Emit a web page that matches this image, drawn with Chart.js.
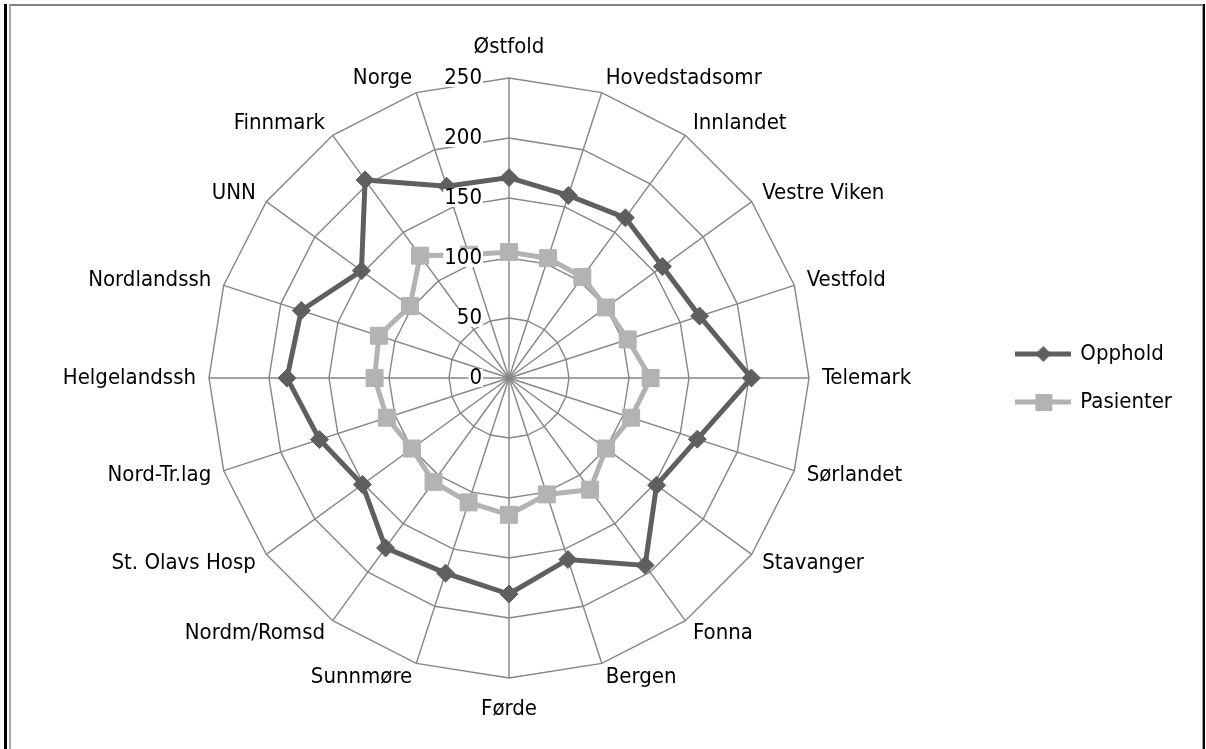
<!DOCTYPE html>
<html>
<head>
<meta charset="utf-8">
<script src="https://cdn.jsdelivr.net/npm/chart.js@4"></script>
<style>
  body { margin: 0; background: #fff; }
  #frame { position: absolute; left: 4px; top: 4px; width: 1201px; height: 760px; box-sizing: border-box;
           border-left: 3px solid #000; border-right: 2px solid #000; }
  #inner { position: absolute; left: 2px; top: 0; right: 0; bottom: 0;
           border-top: 2px solid #808080; border-left: 2px solid #a6a6a6; border-right: 1px solid #a0a0a0; }
  #myChart { position: absolute; left: 0; top: 0; }
</style>
</head>
<body>
<div id="frame"><div id="inner"></div></div>
<canvas id="myChart" width="1206" height="749"></canvas>
<script>
const categories = ['Østfold', 'Hovedstadsomr', 'Innlandet', 'Vestre Viken', 'Vestfold', 'Telemark',
  'Sørlandet', 'Stavanger', 'Fonna', 'Bergen', 'Førde', 'Sunnmøre', 'Nordm/Romsd', 'St. Olavs Hosp',
  'Nord-Tr.lag', 'Helgelandssh', 'Nordlandssh', 'UNN', 'Finnmark', 'Norge'];
const opphold   = [167, 160, 165, 158, 167, 202, 165, 152, 193, 159, 180, 171, 175, 151, 166, 185, 182, 152, 204, 168];
const pasienter = [105, 105, 104, 100, 104, 118, 107, 100, 115, 102, 114, 109, 107, 100, 107, 112, 114, 102, 126, 108];
const tickLabels = ['0', '50', '100', '150', '200', '250'];

const FONT_FAMILY = '"DejaVu Sans Condensed", "Liberation Sans Narrow", sans-serif';
const FONT_SIZE = 22;
const FONT = FONT_SIZE + 'px ' + FONT_FAMILY;
const DARK = '#5f5f5f';
const LIGHT = '#b3b3b3';
const GRID = '#868686';

// legend icon: line with marker in the middle, like excel
function makeIcon(color, style) {
  const c = document.createElement('canvas');
  c.width = 56; c.height = 20;
  const g = c.getContext('2d');
  g.strokeStyle = color;
  g.lineWidth = 5;
  g.beginPath(); g.moveTo(0, 10); g.lineTo(56, 10); g.stroke();
  g.fillStyle = color;
  if (style === 'rectRot') {
    g.beginPath(); g.moveTo(28, 2); g.lineTo(36, 10); g.lineTo(28, 18); g.lineTo(20, 10); g.closePath(); g.fill();
  } else {
    g.fillRect(20, 2, 17, 17);
  }
  return c;
}

// category + tick labels placed the excel way
const labelPlugin = {
  id: 'excelLabels',
  afterDatasetsDraw(chart) {
    const s = chart.scales.r;
    const ctx = chart.ctx;
    ctx.save();
    ctx.font = FONT;
    ctx.textBaseline = 'middle';
    ctx.fillStyle = '#000';
    categories.forEach((name, i) => {
      const p = s.getPointPosition(i, s.drawingArea);
      const a = s.getIndexAngle(i);
      const sin = Math.sin(a), cos = Math.cos(a);
      let x = p.x, y;
      if (Math.abs(sin) < 0.01) {
        ctx.textAlign = 'center';
        y = p.y - Math.sign(cos) * 31;
      } else {
        ctx.textAlign = sin > 0 ? 'left' : 'right';
        x += 13 * sin;
        y = p.y - 15 * cos;
      }
      ctx.fillText(name, x, y);
    });
    ctx.textAlign = 'right';
    tickLabels.forEach(t => {
      const y = s.yCenter - s.getDistanceFromCenterForValue(Number(t));
      const x = s.xCenter - 27;
      const w = ctx.measureText(t).width;
      ctx.fillStyle = '#fff';
      ctx.fillRect(x - w - 1, y - 9, w + 2, 18);
      ctx.fillStyle = '#000';
      ctx.fillText(t, x, y);
    });
    ctx.restore();
  }
};

const data = {
  labels: categories,
  datasets: [{
    label: 'Opphold',
    data: opphold,
    borderColor: DARK,
    backgroundColor: DARK,
    borderWidth: 5,
    fill: false,
    pointStyle: 'rectRot',
    pointRadius: 9,
    pointBorderWidth: 1,
    pointBackgroundColor: DARK,
    pointBorderColor: DARK
  }, {
    label: 'Pasienter',
    data: pasienter,
    borderColor: LIGHT,
    backgroundColor: LIGHT,
    borderWidth: 5,
    fill: false,
    pointStyle: 'rect',
    pointRadius: 12,
    pointBorderWidth: 1,
    pointBackgroundColor: LIGHT,
    pointBorderColor: LIGHT
  }]
};

const config = {
  type: 'radar',
  data,
  options: {
    responsive: false,
    animation: false,
    layout: { padding: { top: 78, bottom: 71, left: 28, right: 24 } },
    scales: {
      r: {
        min: 0,
        max: Number(tickLabels[tickLabels.length - 1]),
        ticks: { display: false, stepSize: 50 },
        grid: { color: GRID, lineWidth: 1.4 },
        angleLines: { color: GRID, lineWidth: 1.4 },
        pointLabels: { display: false }
      }
    },
    plugins: {
      tooltip: { enabled: false },
      legend: {
        position: 'right',
        labels: {
          usePointStyle: true,
          pointStyleWidth: 52,
          padding: 26,
          color: '#000',
          font: { family: FONT_FAMILY, size: FONT_SIZE },
          generateLabels(chart) {
            return chart.data.datasets.map((ds, i) => ({
              text: ds.label,
              datasetIndex: i,
              hidden: false,
              fontColor: '#000',
              fillStyle: ds.borderColor,
              strokeStyle: ds.borderColor,
              lineWidth: 0,
              pointStyle: makeIcon(ds.borderColor, ds.pointStyle)
            }));
          }
        }
      }
    }
  },
  plugins: [labelPlugin]
};

const myChart = new Chart(document.getElementById('myChart'), config);
</script>
</body>
</html>
